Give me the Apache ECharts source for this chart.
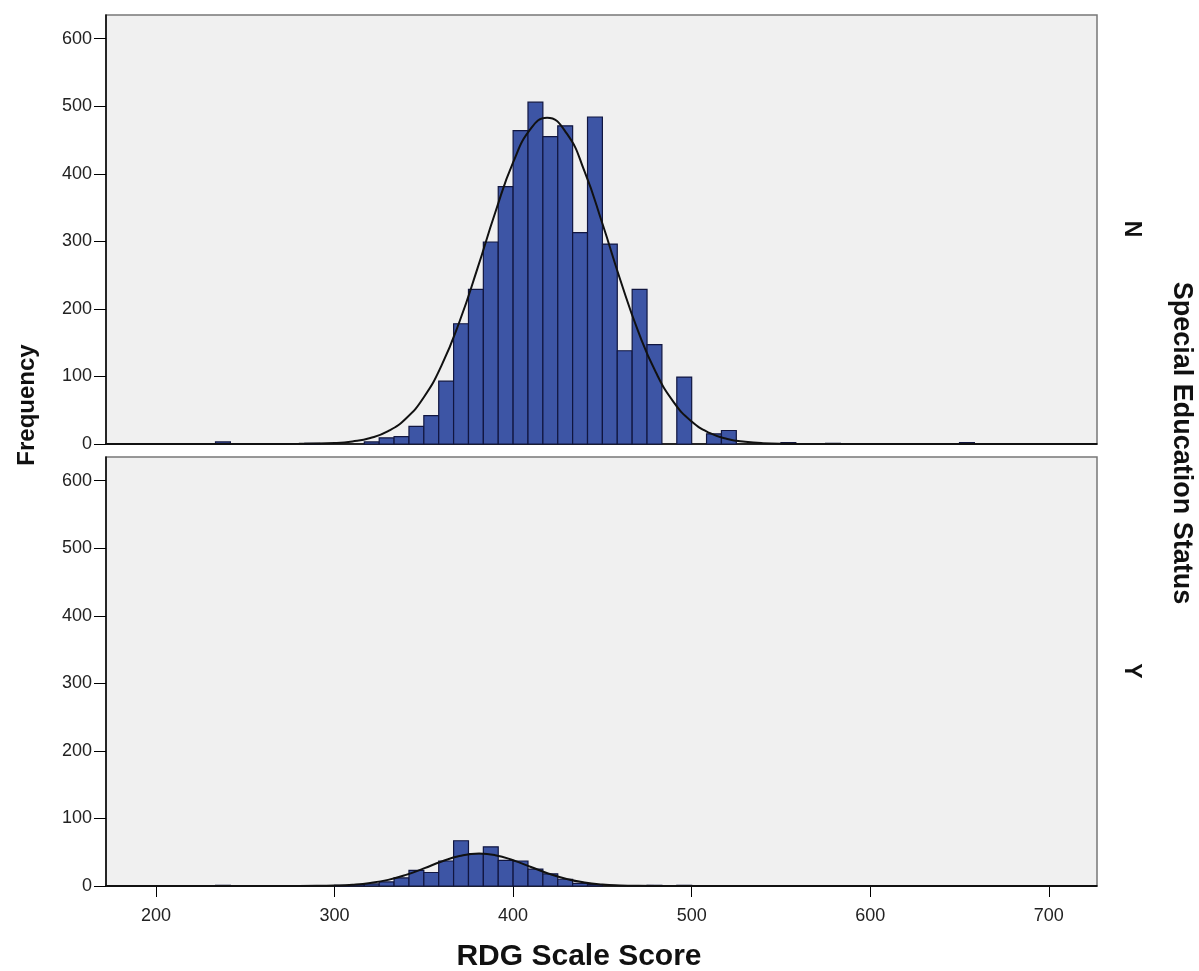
<!DOCTYPE html>
<html>
<head>
<meta charset="utf-8">
<script src="https://cdn.jsdelivr.net/npm/echarts@6/dist/echarts.min.js"></script>
<style>
  html, body { margin: 0; padding: 0; background: #fff; }
  #hist { width: 1199px; height: 971px; }
</style>
</head>
<body>
<div id="hist"></div>
<script>
// bin width of the SPSS histogram (25/3 score points)
const binWidth = 25 / 3;

// panel N (no special education)
const binStartN = [233.33, 283.33, 316.67, 325, 333.33, 341.67, 350, 358.33, 366.67, 375,
  383.33, 391.67, 400, 408.33, 416.67, 425, 433.33, 441.67, 450, 458.33,
  466.67, 475, 491.67, 508.33, 516.67, 550, 575, 650];
const countN = [3, 1, 3, 9, 11, 26, 42, 93, 178, 229,
  299, 381, 464, 506, 455, 471, 313, 484, 296, 138,
  229, 147, 99, 15, 20, 2, 1, 2];

// panel Y (special education)
const binStartY = [233.33, 300, 308.33, 316.67, 325, 333.33, 341.67, 350, 358.33, 366.67,
  375, 383.33, 391.67, 400, 408.33, 416.67, 425, 433.33, 441.67, 475, 491.67];
const countY = [1, 1, 2, 3, 6, 12, 23, 20, 37, 67,
  48, 58, 38, 37, 25, 18, 10, 4, 2, 1, 1];

// normal curves
const curveX = [172, 260, 280, 300, 310, 320, 330, 340, 350, 360, 370, 380, 390, 400, 410, 419,
  430, 440, 450, 460, 470, 480, 490, 500, 510, 520, 530, 540, 560, 580, 727];
const curveN = [0, 0, 0.2, 1.5, 3.8, 8.8, 19, 37.8, 69.2, 116.7, 181.3, 259.6, 342.7, 416.8, 467.1, 483,
  459.7, 403.4, 326.3, 243.2, 167.1, 105.8, 61.7, 33.2, 16.4, 7.5, 3.2, 1.2, 0.1, 0, 0];
const curveXY = [172, 270, 290, 300, 310, 320, 330, 340, 350, 360, 370, 381, 390, 400, 410, 420,
  430, 440, 450, 460, 470, 490, 727];
const curveY = [0, 0, 0.2, 0.7, 1.9, 4.5, 9.1, 16.4, 26, 36.2, 44.4, 48, 45.6, 38.1, 28.1, 18.2,
  10.4, 5.2, 2.3, 0.9, 0.3, 0, 0];

const xTicks = [200, 300, 400, 500, 600, 700];
const yTicks = [0, 100, 200, 300, 400, 500, 600];

const font = '"Liberation Sans", Arial, sans-serif';
const barFill = '#3d55a5';
const barEdge = '#111640';

const zip = (a, b) => a.map((v, i) => [v, b[i]]);

const renderBar = (params, api) => {
  const x0 = api.value(0);
  const top = api.coord([x0, api.value(1)]);
  const base = api.coord([x0 + binWidth, 0]);
  return {
    type: 'rect',
    shape: { x: top[0], y: top[1], width: base[0] - top[0], height: base[1] - top[1] },
    style: { fill: barFill, stroke: barEdge, lineWidth: 1.2 }
  };
};

const yAxisFor = (idx) => ({
  type: 'value',
  gridIndex: idx,
  min: 0,
  max: 635,
  splitLine: { show: false },
  axisLine: { show: true, lineStyle: { color: '#000', width: 1.5 } },
  axisTick: { show: true, length: 12, customValues: yTicks, lineStyle: { color: '#000' } },
  axisLabel: { customValues: yTicks, margin: 14, color: '#222', fontSize: 18, fontFamily: font }
});

const curveSeries = (axis, xs, ys) => ({
  type: 'line', xAxisIndex: axis, yAxisIndex: axis, data: zip(xs, ys),
  smooth: 0.5, showSymbol: false, z: 3,
  lineStyle: { color: '#111', width: 2 }
});

const option = {
  animation: false,
  backgroundColor: '#fff',
  grid: [
    { left: 106, right: 102, top: 15, height: 429, show: true, backgroundColor: '#f0f0f0', borderColor: '#777', borderWidth: 1.5 },
    { left: 106, right: 102, top: 457, height: 429, show: true, backgroundColor: '#f0f0f0', borderColor: '#777', borderWidth: 1.5 }
  ],
  xAxis: [
    {
      type: 'value', gridIndex: 0, min: 172, max: 727,
      splitLine: { show: false },
      axisLine: { show: true, onZero: false, lineStyle: { color: '#000', width: 1.5 } },
      axisTick: { show: false },
      axisLabel: { show: false }
    },
    {
      type: 'value', gridIndex: 1, min: 172, max: 727,
      splitLine: { show: false },
      axisLine: { show: true, onZero: false, lineStyle: { color: '#000', width: 1.5 } },
      axisTick: { show: true, length: 11, customValues: xTicks, lineStyle: { color: '#000' } },
      axisLabel: { customValues: xTicks, margin: 21, color: '#222', fontSize: 18, fontFamily: font }
    }
  ],
  yAxis: [yAxisFor(0), yAxisFor(1)],
  graphic: [
    { type: 'text', x: 27, y: 405, rotation: Math.PI / 2,
      style: { text: 'Frequency', font: 'bold 24px ' + font, fill: '#111', align: 'center', verticalAlign: 'middle' } },
    { type: 'text', x: 1181, y: 443, rotation: -Math.PI / 2,
      style: { text: 'Special Education Status', font: 'bold 27px ' + font, fill: '#111', align: 'center', verticalAlign: 'middle' } },
    { type: 'text', x: 1131, y: 229, rotation: -Math.PI / 2,
      style: { text: 'N', font: 'bold 23px ' + font, fill: '#111', align: 'center', verticalAlign: 'middle' } },
    { type: 'text', x: 1131, y: 671, rotation: -Math.PI / 2,
      style: { text: 'Y', font: 'bold 23px ' + font, fill: '#111', align: 'center', verticalAlign: 'middle' } },
    { type: 'text', x: 579, y: 957,
      style: { text: 'RDG Scale Score', font: 'bold 30px ' + font, fill: '#111', align: 'center', verticalAlign: 'middle' } }
  ],
  series: [
    { type: 'custom', xAxisIndex: 0, yAxisIndex: 0, renderItem: renderBar, data: zip(binStartN, countN), z: 2 },
    { type: 'custom', xAxisIndex: 1, yAxisIndex: 1, renderItem: renderBar, data: zip(binStartY, countY), z: 2 },
    curveSeries(0, curveX, curveN),
    curveSeries(1, curveXY, curveY)
  ]
};

const chart = echarts.init(document.getElementById('hist'));
chart.setOption(option);
</script>
</body>
</html>
